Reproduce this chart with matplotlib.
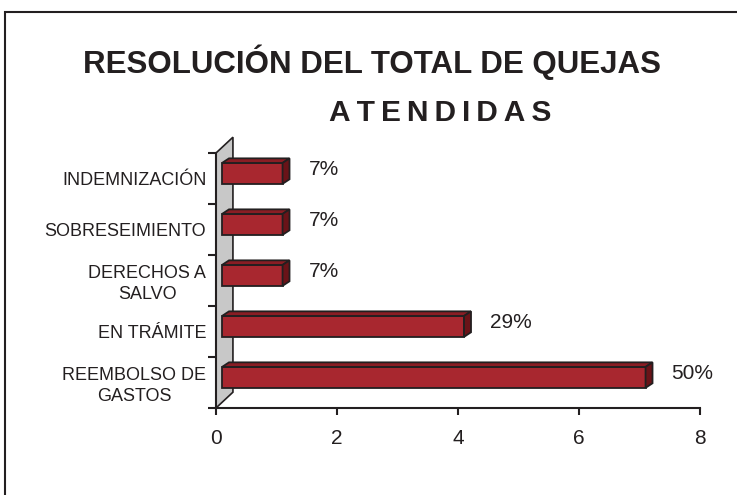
import matplotlib.pyplot as plt
from matplotlib.patches import Polygon, Rectangle

plt.rcParams['font.family'] = ['Liberation Sans', 'DejaVu Sans']

categories = ['REEMBOLSO DE\nGASTOS', 'EN TRÁMITE', 'DERECHOS A\nSALVO',
              'SOBRESEIMIENTO', 'INDEMNIZACIÓN']
values = [7, 4, 1, 1, 1]
percents = ['50%', '29%', '7%', '7%', '7%']
xticks = [0, 2, 4, 6, 8]

front = '#A8272F'
top_c = '#8A1D24'
side_c = '#6A1318'
edge = '#231F20'

fig = plt.figure(figsize=(7.37, 4.95), dpi=100)
ax = fig.add_axes([216 / 737, 87 / 495, 484 / 737, 255 / 495])
ax.set_xlim(0, 8)
ax.set_ylim(-0.5, len(categories) - 0.5)

# back wall (3d look)
wx, wy = 0.28, 0.31
n = len(categories)
wall = Polygon([(0, -0.5), (wx, -0.5 + wy), (wx, n - 0.5 + wy), (0, n - 0.5)],
               closed=True, facecolor='#C8C8C8', edgecolor=edge, lw=1.2,
               clip_on=False, zorder=1)
ax.add_patch(wall)

# bars with top and side faces
x0 = 0.1
h = 0.41
dx, dy = 0.115, 0.09
for i, v in enumerate(values):
    yc = i + 0.1
    yb, yt = yc - h / 2, yc + h / 2
    x1 = x0 + v
    ax.barh(yc, v, left=x0, height=h, color=front, edgecolor=edge, lw=1.3, zorder=3)
    ax.add_patch(Polygon([(x0, yt), (x0 + dx, yt + dy), (x1 + dx, yt + dy), (x1, yt)],
                         facecolor=top_c, edgecolor=edge, lw=1.3, zorder=3, clip_on=False))
    ax.add_patch(Polygon([(x1, yb), (x1 + dx, yb + dy), (x1 + dx, yt + dy), (x1, yt)],
                         facecolor=side_c, edgecolor=edge, lw=1.3, zorder=3, clip_on=False))
    ax.text(v + 0.53, i + 0.18, percents[i], fontsize=15, color='#231F20',
            va='center', ha='left')

ax.spines['top'].set_visible(False)
ax.spines['right'].set_visible(False)
for s in ['left', 'bottom']:
    ax.spines[s].set_color(edge)
    ax.spines[s].set_linewidth(1.5)
    ax.spines[s].set_zorder(4)

ax.set_xticks(xticks)
ax.set_xticklabels([str(t) for t in xticks], fontsize=15, color='#231F20')
ax.tick_params(axis='x', length=5, width=1.5, color=edge, pad=10)

ax.set_yticks([i - 0.5 for i in range(n + 1)])
ax.set_yticklabels([])
ax.tick_params(axis='y', which='major', length=6, width=1.5, color=edge)
ax.set_yticks(range(n), minor=True)
ax.set_yticklabels(categories, minor=True, fontsize=13, color='#231F20')
ax.tick_params(axis='y', which='minor', length=0, pad=7)
for lab in ax.get_yticklabels(minor=True):
    lab.set_multialignment('center')
    lab.set_linespacing(1.3)

ax.set_facecolor('none')

fig.text(372 / 737, 1 - 62 / 495, 'RESOLUCIÓN DEL TOTAL DE QUEJAS',
         fontsize=22.5, fontweight='bold', ha='center', va='center', color='#231F20')
fig.text(440 / 737, 1 - 113 / 495, '\u2009'.join('ATENDIDAS'),
         fontsize=21.5, fontweight='bold', ha='center', va='center', color='#231F20')

fig.add_artist(Rectangle((5 / 737, -0.1), 1.2, (495 - 12) / 495 + 0.1,
                         transform=fig.transFigure, fill=False,
                         edgecolor=edge, lw=1.5))

fig.savefig('out.png', dpi=100)
